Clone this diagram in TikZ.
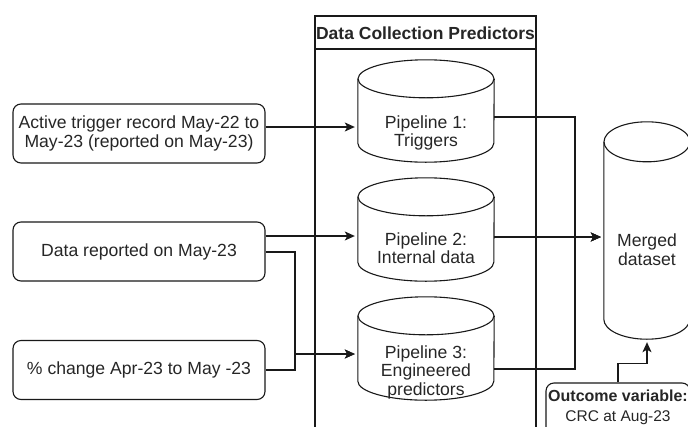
\documentclass[tikz,border=0pt]{standalone}
\usepackage{fontspec}
\setmainfont{Liberation Sans}
\usetikzlibrary{arrows.meta,calc}

% drum outline drawn round an (invisible) frame node: #1 node name, #2 half width, #3 cap radius
\newcommand\drawdrum[3]{%
  \draw[line] ($(#1.north west)+(0,#3)$) -- ($(#1.south west)+(0,-#3)$)
    arc[start angle=180,end angle=0,x radius=#2,y radius=#3]
    -- ($(#1.north east)+(0,#3)$);
  \draw[line] ($(#1.north)+(0,#3)$) ellipse[x radius=#2,y radius=#3];
}

\begin{document}
\begin{tikzpicture}[x=1pt,y=-1pt,
  line/.style={draw=black!90,line width=1.1pt},
  txt/.style={text=black!85,font=\fontsize{17.6}{18.5}\selectfont,align=center,inner sep=0pt},
  srcbox/.style={line,rounded corners=8pt,minimum width=252pt,minimum height=59pt,
    inner sep=0pt,txt},
  frame/.style={inner sep=0pt,draw=none},
  arr/.style={line,-{Stealth[length=10pt,width=9pt,inset=2.5pt]},shorten >=3pt}]
\useasboundingbox (0,0) rectangle (688,426);
\clip (0,0) rectangle (688,426);

% swimlane holding the three pipelines
\draw[line] (315,16) rectangle (536,440);
\draw[line] (315,49) -- (536,49);
\node[txt,font=\bfseries\fontsize{17.5}{18}\selectfont] (lane) at (425.5,33) {Data Collection Predictors};

% source boxes
\node[srcbox] (b1) at (139,133.5) {Active trigger record May-22 to\\May-23 (reported on May-23)};
\node[srcbox] (b2) at (139,251.5) {Data reported on May-23};
\node[srcbox] (b3) at (139,370) {\% change Apr-23 to May -23};

% pipelines
\node[frame,minimum width=136pt,minimum height=102pt] (p1) at (426,111) {};
\node[frame,minimum width=136pt,minimum height=103pt] (p2) at (426,229.5) {};
\node[frame,minimum width=136pt,minimum height=103pt] (p3) at (426,348.5) {};
\drawdrum{p1}{68}{19}
\drawdrum{p2}{68}{19}
\drawdrum{p3}{68}{19}
\node[txt] (p1t) at (426,133) {Pipeline 1:\\Triggers};
\node[txt] (p2t) at (426,248) {Pipeline 2:\\Internal data};
\node[txt] (p3t) at (426,372) {Pipeline 3:\\Engineered\\predictors};

% merged dataset
\node[frame,minimum width=86pt,minimum height=217pt] (m) at (647,230.5) {};
\drawdrum{m}{43}{20}
\node[txt] (mt) at (647,249.5) {Merged\\dataset};

% outcome variable
\node[line,rounded corners=8pt,minimum width=144pt,minimum height=60pt,inner sep=0pt] (oc) at (618,413) {};
\node[txt,font=\fontsize{16}{20}\selectfont] (oct) at (618,407)
  {\textbf{Outcome variable:}\\{\fontsize{15.5}{20}\selectfont CRC at Aug-23}};

% connectors into the pipelines
\coordinate (j3) at (295,354);
\draw[arr] (b1.east |- 0,127) -- (p1.west |- 0,127);
\draw[arr] (b2.east |- 0,236) -- (p2.west |- 0,236);
\draw[arr] (b2.east |- 0,252) -| (j3) -- (p3.west |- j3);
\draw[arr] (b3.east) -| (j3) -- (p3.west |- j3);

% connectors into the merged dataset
\coordinate (jm) at (575,237);
\draw[arr] (p1.east |- 0,117) -| (jm) -- (m.west |- jm);
\draw[arr] (p2.east |- jm) -- (m.west |- jm);
\draw[arr] (p3.east |- 0,369) -| (jm) -- (m.west |- jm);
\draw[arr] (oc.north) |- ($(m.south)+(0,24)$) -- (m.south);
\end{tikzpicture}
\end{document}
